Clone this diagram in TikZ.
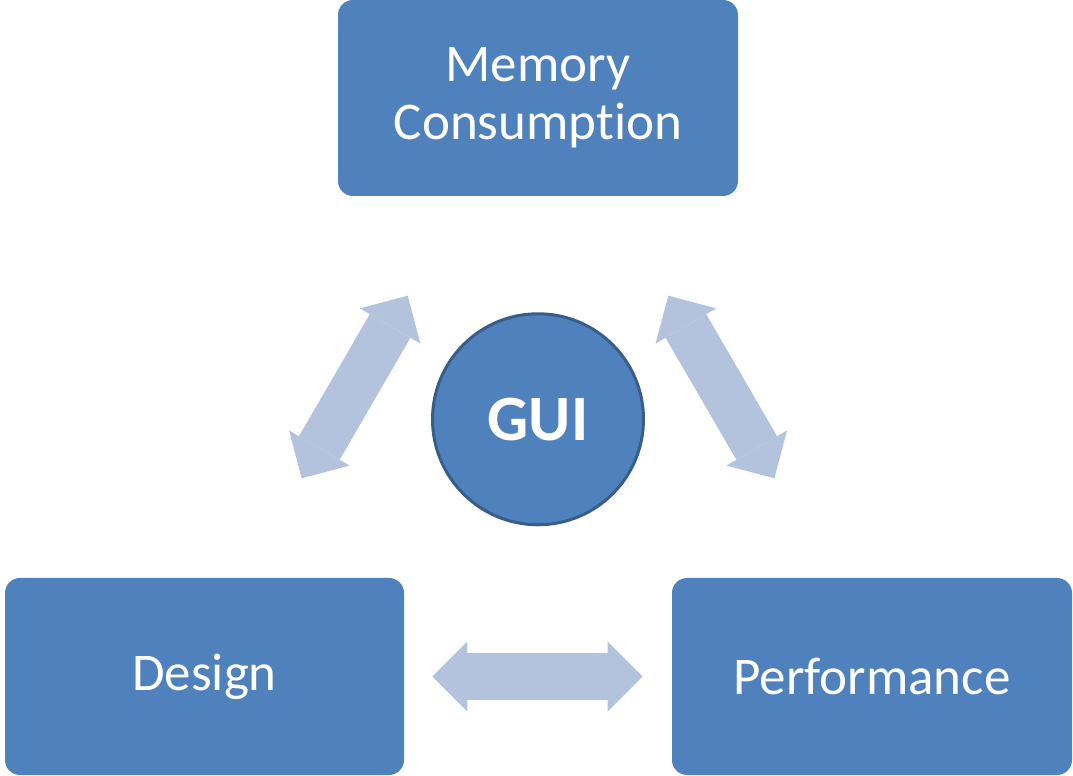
\documentclass[tikz,border=0pt]{standalone}
\usepackage{fontspec}
\setmainfont[Ligatures={NoCommon,NoRare}]{Carlito}
\usepackage{tikz}
\usetikzlibrary{arrows.meta, positioning, calc}
\definecolor{boxblue}{HTML}{4F81BD}
\definecolor{rimblue}{HTML}{385D8A}
\definecolor{paleblue}{HTML}{B3C2DD}
\tikzset{
    topic/.style={rectangle, fill=boxblue, text=white, rounded corners=0.375cm, minimum width=10cm, minimum height=4.925cm, align=center, font=\fontsize{37.7}{41.2}\selectfont},
    core/.style={circle, draw=rimblue, line width=0.075cm, fill=boxblue, text=white, minimum size=5.275cm, inner sep=0pt, font=\fontsize{46}{50}\selectfont\bfseries},
    bigarrow/.style={paleblue, line width=1.175cm, {Triangle[length=0.875cm, width=1.75cm, line width=0pt]}-{Triangle[length=0.875cm, width=1.75cm, line width=0pt]}},
}
\begin{document}
\begin{tikzpicture}
    \useasboundingbox (0,0) rectangle (26.825,19.375);
    % Boxes
    \node[topic, minimum height=4.9cm] (mem) at (13.45,16.925) {Memory\\Consumption};
    \node[core, below=2.9cm of mem] (gui) {GUI};
    \node[topic, minimum width=9.975cm] (design) at (5.1125,2.4625) {Design};
    \node[topic] (perf) at (21.8,2.4625) {Performance};
    
    % Arrow ends
    \coordinate (lb) at (7.5425,7.4175);
    \coordinate (lt) at (10.1925,11.9825);
    \coordinate (rt) at (16.7075,11.9825);
    \coordinate (rb) at (19.3575,7.4175);
    
    % Arrows
    \draw[bigarrow] (lb) -- (lt);
    \draw[bigarrow] (rt) -- (rb);
    \draw[bigarrow, shorten <=0.7cm, shorten >=0.725cm] (design) -- (perf);
\end{tikzpicture}
\end{document}
